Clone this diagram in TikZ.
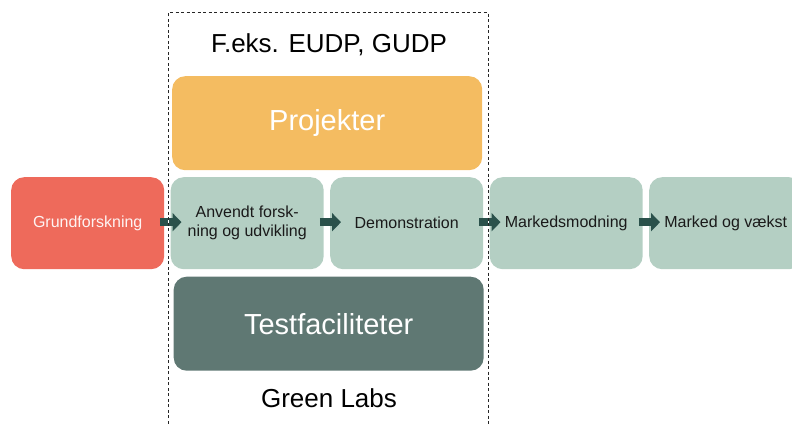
\documentclass[tikz,border=0pt]{standalone}
\usepackage{fontspec}
\setmainfont{Liberation Sans}
\usetikzlibrary{arrows.meta}
\definecolor{redbox}{HTML}{EE6A5B}
\definecolor{greenbox}{HTML}{B4CFC3}
\definecolor{orangebox}{HTML}{F4BC61}
\definecolor{darkbox}{HTML}{5F7873}
\definecolor{arrowcol}{HTML}{2A514B}
\definecolor{txt}{HTML}{1A1A1A}
\tikzset{
  stage/.style={rectangle, rounded corners=13pt, minimum width=153pt, minimum height=92pt,
    anchor=north west, inner sep=2pt, align=center, text=txt,
    font=\fontsize{16}{19.2}\selectfont},
  big/.style={rectangle, rounded corners=13pt, minimum width=310pt, minimum height=94pt,
    anchor=north west, text=white, font=\fontsize{29}{34}\selectfont},
  caption/.style={anchor=base, text=black, font=\fontsize{26}{31}\selectfont},
  flow/.style={arrowcol, line width=8.5pt, -{Triangle[length=9pt,width=18pt]}, shorten <=-4pt, shorten >=-11pt},
}
\begin{document}
\begin{tikzpicture}[x=1pt,y=-1pt]
\useasboundingbox (0,0) rectangle (792,425);
% stages
\node[stage, fill=redbox, text=white!92!redbox] (g) at (11,177) {Grundforskning};
\node[stage, fill=greenbox] (a) at (170.5,177) {Anvendt forsk-\\ning og udvikling};
\node[stage, fill=greenbox] (d) at (330,177) {Demonstration};
\node[stage, fill=greenbox] (m) at (489.5,177) {Markedsmodning};
\node[stage, fill=greenbox] (v) at (649,177) {Marked og vækst};
% big boxes
\node[big, fill=orangebox] (p) at (172,76) {Projekter};
\node[big, fill=darkbox] (t) at (173.5,276.5) {Testfaciliteter};
% captions
\node[caption] (cap1) at (329,53) {F.eks. EUDP, GUDP};
\node[caption] (cap2) at (329,407) {Green Labs};
% arrows
\draw[flow] ([yshift=1pt]g.east) -- ([yshift=1pt]a.west);
\draw[flow] ([yshift=1pt]a.east) -- ([yshift=1pt]d.west);
\draw[flow] ([yshift=1pt]d.east) -- ([yshift=1pt]m.west);
\draw[flow] ([yshift=1pt]m.east) -- ([yshift=1pt]v.west);
% dashed frame
\coordinate (fl) at (168,440);
\coordinate (ftl) at (168,13);
\coordinate (ftr) at (488,13);
\coordinate (fr) at (488,440);
\draw[white, line width=1pt] (fl) -- (ftl) -- (ftr) -- (fr);
\draw[black!85, line width=1pt, dash pattern=on 3pt off 2.5pt] (fl) -- (ftl) -- (ftr) -- (fr);
\end{tikzpicture}
\end{document}
